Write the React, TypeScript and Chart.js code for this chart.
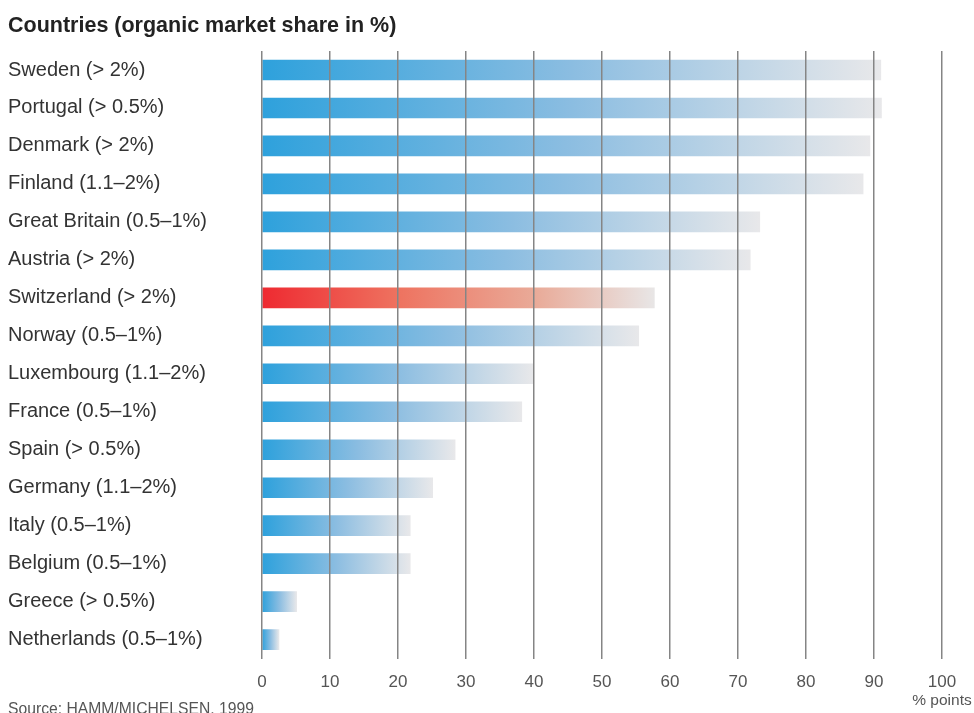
import React, { useEffect, useRef } from "react";
import { Chart, registerables } from "chart.js";

Chart.register(...registerables);

const countries: string[] = [
  "Sweden (> 2%)",
  "Portugal (> 0.5%)",
  "Denmark (> 2%)",
  "Finland (1.1–2%)",
  "Great Britain (0.5–1%)",
  "Austria (> 2%)",
  "Switzerland (> 2%)",
  "Norway (0.5–1%)",
  "Luxembourg (1.1–2%)",
  "France (0.5–1%)",
  "Spain (> 0.5%)",
  "Germany (1.1–2%)",
  "Italy (0.5–1%)",
  "Belgium (0.5–1%)",
  "Greece (> 0.5%)",
  "Netherlands (0.5–1%)",
];

const values: number[] = [91.0, 91.1, 89.4, 88.4, 73.2, 71.8, 57.7, 55.4, 39.9, 38.2, 28.4, 25.1, 21.8, 21.8, 5.1, 2.5];

const highlighted = "Switzerland (> 2%)";

const tickValues: number[] = [0, 10, 20, 30, 40, 50, 60, 70, 80, 90, 100];

const titleText = "Countries (organic market share in %)";
const unitText = "% points";
const sourceText = "Source: HAMM/MICHELSEN, 1999";

const FONT = "'Liberation Sans', Arial, Helvetica, sans-serif";

export default function App() {
  const canvasRef = useRef<HTMLCanvasElement | null>(null);

  useEffect(() => {
    const canvas = canvasRef.current;
    if (!canvas) return;

    const textPlugin = {
      id: "extraText",
      afterDraw(chart: any) {
        const c = chart.ctx;
        const xs = chart.scales.x;
        c.save();
        c.fillStyle = "#222";
        c.font = `bold 21.5px ${FONT}`;
        c.textAlign = "left";
        c.textBaseline = "alphabetic";
        c.fillText(titleText, 8, 32);

        c.fillStyle = "#555";
        c.font = `15.5px ${FONT}`;
        c.textAlign = "center";
        c.fillText(unitText, xs.getPixelForValue(100), 705);

        c.textAlign = "left";
        c.font = `15.7px ${FONT}`;
        c.fillText(sourceText, 8, 714);
        c.restore();
      },
    };

    const chart = new Chart(canvas, {
      type: "bar",
      data: {
        labels: countries,
        datasets: [
          {
            data: values,
            barThickness: 20,
            borderWidth: 0,
            backgroundColor: (ctx: any) => {
              const ch = ctx.chart;
              const isRed = countries[ctx.dataIndex] === highlighted;
              const start = isRed ? "#ee2a31" : "#2ea1dc";
              if (!ch.chartArea || !ch.scales.x) return start;
              const xs = ch.scales.x;
              const x0 = xs.getPixelForValue(0);
              const x1 = xs.getPixelForValue(values[ctx.dataIndex]);
              const g = ch.ctx.createLinearGradient(x0, 0, Math.max(x1, x0 + 1), 0);
              if (isRed) {
                g.addColorStop(0, "#ee2a31");
                g.addColorStop(0.35, "#ee7360");
                g.addColorStop(0.7, "#e9ab99");
                g.addColorStop(1, "#e8e6e6");
              } else {
                g.addColorStop(0, "#2ea1dc");
                g.addColorStop(0.5, "#8bbde1");
                g.addColorStop(1, "#e8e8ea");
              }
              return g;
            },
          },
        ],
      },
      options: {
        indexAxis: "y",
        responsive: false,
        animation: false,
        layout: { padding: { left: 8, right: 32, top: 51, bottom: 6 } },
        plugins: {
          legend: { display: false },
          title: { display: false },
          tooltip: { enabled: false },
        },
        scales: {
          x: {
            type: "linear",
            min: 0,
            max: 100,
            afterBuildTicks: (scale: any) => {
              scale.ticks = tickValues.map((v) => ({ value: v }));
            },
            grid: {
              z: 1,
              color: "#858585",
              lineWidth: 1.5,
              drawTicks: false,
            },
            border: { display: false },
            ticks: {
              padding: 14,
              color: "#555",
              font: { family: FONT, size: 17 },
            },
          },
          y: {
            grid: { display: false, drawTicks: false },
            border: { display: false },
            afterFit: (scale: any) => {
              scale.width = 254;
            },
            ticks: {
              crossAlign: "far",
              padding: 0,
              color: "#333",
              font: { family: FONT, size: 20 },
            },
          },
        },
      },
      plugins: [textPlugin],
    } as any);

    return () => chart.destroy();
  }, []);

  return (
    <div style={{ position: "absolute", left: 0, top: 0, width: 974, height: 713, background: "#fff" }}>
      <canvas ref={canvasRef} width={974} height={713} style={{ display: "block" }} />
    </div>
  );
}
